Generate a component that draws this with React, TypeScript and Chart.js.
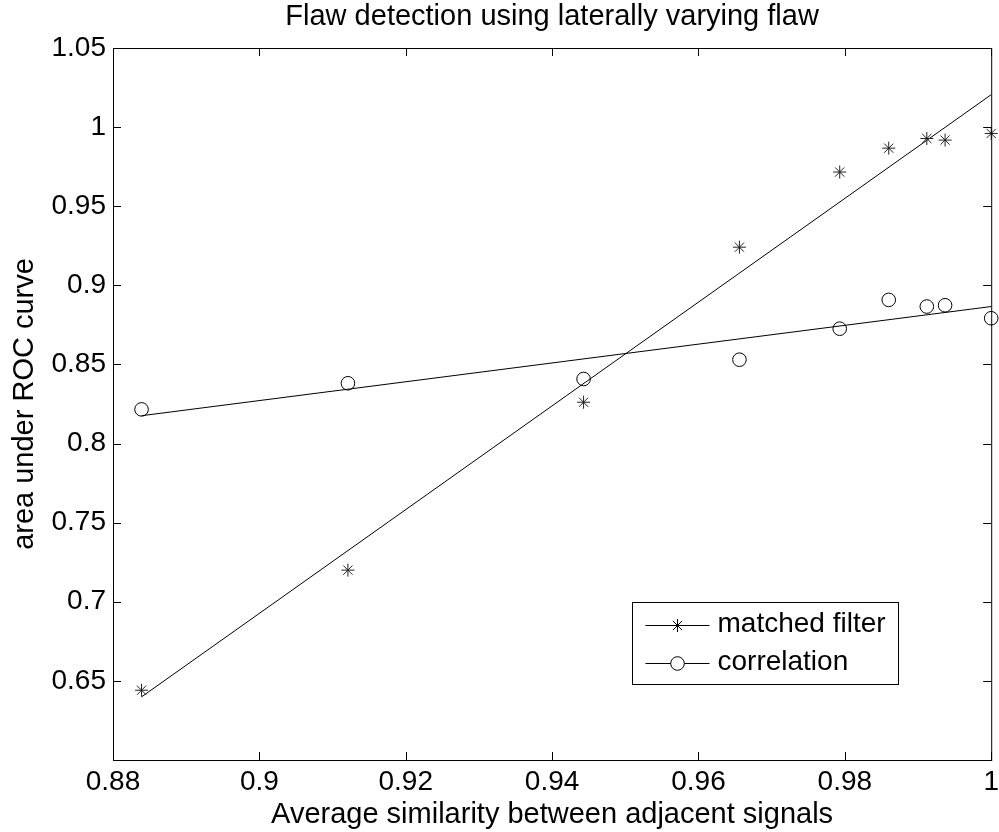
import React, { useEffect, useRef } from "react";
import { Chart, registerables } from "chart.js";

Chart.register(...registerables);

// ---- data ----
const similarity = [0.8839, 0.9121, 0.9443, 0.9656, 0.9793, 0.986, 0.9912, 0.9937, 1.0];
const matchedFilter = [0.6441, 0.72, 0.8261, 0.9241, 0.9716, 0.9867, 0.9928, 0.9918, 0.996];
const correlation = [0.8216, 0.8381, 0.8408, 0.853, 0.8726, 0.8908, 0.8866, 0.8874, 0.8792];
const fitX = [0.8839, 1.0];
const matchedFit = [0.6399, 1.0205];
const correlationFit = [0.8176, 0.8866];
const xTicks = [0.88, 0.9, 0.92, 0.94, 0.96, 0.98, 1];
const yTicks = [0.65, 0.7, 0.75, 0.8, 0.85, 0.9, 0.95, 1, 1.05];
const titleText = "Flaw detection using laterally varying flaw";
const xLabel = "Average similarity between adjacent signals";
const yLabel = "area under ROC curve";
const legendLabels = ["matched filter", "correlation"];

const FONT = "'Liberation Sans', Arial, Helvetica, sans-serif";
const FS = 28;
const FT = 29;

function drawStar(ctx: CanvasRenderingContext2D, x: number, y: number, r: number) {
  const d = r * Math.SQRT1_2;
  ctx.beginPath();
  ctx.moveTo(x - r, y);
  ctx.lineTo(x + r, y);
  ctx.moveTo(x, y - r);
  ctx.lineTo(x, y + r);
  ctx.moveTo(x - d, y - d);
  ctx.lineTo(x + d, y + d);
  ctx.moveTo(x - d, y + d);
  ctx.lineTo(x + d, y - d);
  ctx.stroke();
}

const framePlugin = {
  id: "matlabFrame",
  afterDraw(chart: any) {
    const { ctx, chartArea } = chart;
    const { left, right, top, bottom } = chartArea;
    const xs = chart.scales.x;
    const ys = chart.scales.y;
    ctx.save();
    ctx.strokeStyle = "#000";
    ctx.lineWidth = 1;
    ctx.strokeRect(left + 0.5, top + 0.5, right - left, bottom - top);
    const tl = 8;
    ctx.beginPath();
    xTicks.forEach((v) => {
      const px = Math.round(xs.getPixelForValue(v)) + 0.5;
      ctx.moveTo(px, bottom);
      ctx.lineTo(px, bottom - tl);
      ctx.moveTo(px, top);
      ctx.lineTo(px, top + tl);
    });
    yTicks.forEach((v) => {
      const py = Math.round(ys.getPixelForValue(v)) + 0.5;
      ctx.moveTo(left, py);
      ctx.lineTo(left + tl, py);
      ctx.moveTo(right, py);
      ctx.lineTo(right - tl, py);
    });
    ctx.stroke();

    // legend
    const bw = 266;
    const bh = 82;
    const bx = Math.round(right - 93 - bw) + 0.5;
    const by = Math.round(bottom - 76 - bh) + 0.5;
    ctx.fillStyle = "#fff";
    ctx.fillRect(bx, by, bw, bh);
    ctx.strokeStyle = "#000";
    ctx.strokeRect(bx, by, bw, bh);
    const rows = [by + 22, by + 60];
    ctx.font = `${FS}px ${FONT}`;
    ctx.textBaseline = "middle";
    ctx.textAlign = "left";
    rows.forEach((ry, i) => {
      const yy = Math.round(ry) + 0.5;
      ctx.beginPath();
      ctx.moveTo(bx + 13, yy);
      ctx.lineTo(bx + 77, yy);
      ctx.stroke();
      if (i === 0) {
        drawStar(ctx, bx + 45, yy, 6.5);
      } else {
        ctx.beginPath();
        ctx.arc(bx + 45, yy, 6.8, 0, Math.PI * 2);
        ctx.fillStyle = "#fff";
        ctx.fill();
        ctx.stroke();
      }
      ctx.fillStyle = "#000";
      ctx.fillText(legendLabels[i], bx + 85, ry);
    });
    ctx.restore();
  },
};

export default function App() {
  const ref = useRef<HTMLCanvasElement | null>(null);
  useEffect(() => {
    document.body.style.margin = "0";
    Chart.defaults.font.family = FONT;
    Chart.defaults.color = "#000";
    const canvas = ref.current!;
    const chart = new Chart(canvas, {
      type: "scatter",
      data: {
        datasets: [
          {
            label: legendLabels[0],
            data: similarity.map((x, i) => ({ x, y: matchedFilter[i] })),
            showLine: false,
            pointStyle: "star",
            pointRadius: 6.5,
            borderColor: "#222",
            backgroundColor: "#222",
            borderWidth: 1,
            clip: false,
          } as any,
          {
            label: legendLabels[0] + " fit",
            data: fitX.map((x, i) => ({ x, y: matchedFit[i] })),
            showLine: true,
            pointRadius: 0,
            borderColor: "#000",
            borderWidth: 1,
          } as any,
          {
            label: legendLabels[1],
            data: similarity.map((x, i) => ({ x, y: correlation[i] })),
            showLine: false,
            pointStyle: "circle",
            pointRadius: 6.8,
            borderColor: "#000",
            backgroundColor: "rgba(0,0,0,0)",
            borderWidth: 1,
            clip: false,
          } as any,
          {
            label: legendLabels[1] + " fit",
            data: fitX.map((x, i) => ({ x, y: correlationFit[i] })),
            showLine: true,
            pointRadius: 0,
            borderColor: "#000",
            borderWidth: 1,
          } as any,
        ],
      },
      options: {
        animation: false,
        responsive: false,
        devicePixelRatio: 1,
        events: [],
        layout: { padding: { left: 0, right: 7, top: 0, bottom: 0 } },
        plugins: {
          legend: { display: false },
          tooltip: { enabled: false },
          title: {
            display: true,
            text: titleText,
            fullSize: false,
            color: "#000",
            font: { size: FT, weight: "normal" as any, family: FONT },
            padding: { top: 0, bottom: 13.2 },
          },
        },
        scales: {
          x: {
            type: "linear",
            min: 0.88,
            max: 1.0,
            grid: { display: false, drawTicks: false },
            border: { display: false },
            ticks: {
              color: "#000",
              font: { size: FS, family: FONT },
              padding: 5,
              autoSkip: false,
              maxRotation: 0,
              callback: (v: any) => String(Number(Number(v).toFixed(2))),
            },
            afterBuildTicks: (s: any) => {
              s.ticks = xTicks.map((v) => ({ value: v }));
            },
            afterFit: (s: any) => {
              s.height = 72;
              s.paddingLeft = 0;
              s.paddingRight = 0;
            },
            title: {
              display: true,
              text: xLabel,
              color: "#000",
              font: { size: FT, family: FONT },
              padding: { top: 0, bottom: 0 },
            },
          },
          y: {
            type: "linear",
            min: 0.6,
            max: 1.05,
            grid: { display: false, drawTicks: false },
            border: { display: false },
            ticks: {
              color: "#000",
              font: { size: FS, family: FONT },
              padding: 7,
              autoSkip: false,
              callback: (v: any) => String(Number(Number(v).toFixed(2))),
            },
            afterBuildTicks: (s: any) => {
              s.ticks = yTicks.map((v) => ({ value: v }));
            },
            afterFit: (s: any) => {
              s.width = 113;
              s.paddingTop = 0;
              s.paddingBottom = 0;
            },
            title: {
              display: true,
              text: yLabel,
              color: "#000",
              font: { size: FT, family: FONT },
              padding: { top: 7.6, bottom: 0 },
            },
          },
        },
      },
      plugins: [framePlugin],
    });
    return () => chart.destroy();
  }, []);
  return (
    <div style={{ position: "absolute", left: 0, top: 0, width: 999, height: 832, background: "#fff" }}>
      <canvas ref={ref} width={999} height={832} style={{ display: "block", width: 999, height: 832 }} />
    </div>
  );
}
